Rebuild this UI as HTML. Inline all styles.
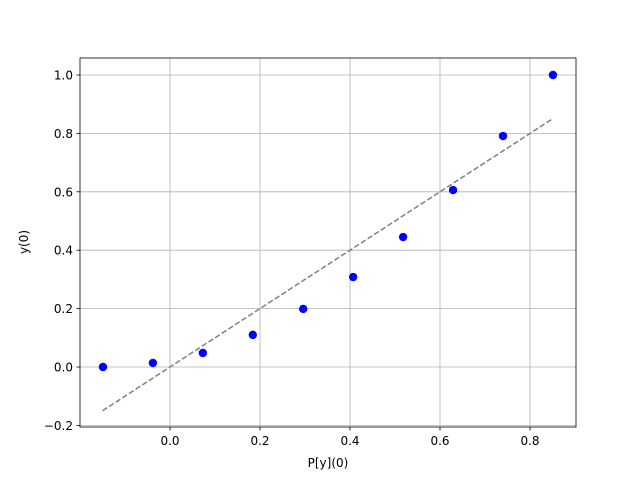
<!DOCTYPE html>
<html><head><meta charset="utf-8"><style>
body{margin:0;background:#fff;}
svg{display:block;font-family:"DejaVu Sans","Liberation Sans",sans-serif;}
</style></head><body>
<svg id="chart" width="640" height="480"></svg>
<script>
const xVals=[-0.149,-0.038,0.073,0.184,0.296,0.407,0.518,0.629,0.74,0.851];
const yVals=[0.0,0.014,0.048,0.11,0.199,0.308,0.445,0.606,0.791,1.0];
const lineX=[-0.15,0.85];
const lineY=[-0.15,0.85];
const xTicks=[0.0,0.2,0.4,0.6,0.8];
const yTicks=[-0.2,0.0,0.2,0.4,0.6,0.8,1.0];
const L=80,R=576,T=58,B=427;
const sx=v=>170+v*450;
const sy=v=>367-v*292;
const svg=document.getElementById('chart');
const NS='http://www.w3.org/2000/svg';
function mk(t,a,p){const e=document.createElementNS(NS,t);for(const k in a)e.setAttribute(k,a[k]);(p||svg).appendChild(e);return e;}
const grid=mk('g',{});


xTicks.forEach(v=>{const x=sx(v);
mk('line',{x1:x,x2:x,y1:T,y2:B,stroke:'#b0b0b0','stroke-width':0.8},grid);
mk('line',{x1:x,x2:x,y1:B,y2:B+3.5,stroke:'#000','stroke-width':0.8});
const t=mk('text',{x:x,y:B+18,'text-anchor':'middle','font-size':12});t.textContent=v.toFixed(1);

});
yTicks.forEach(v=>{const y=sy(v);
mk('line',{x1:L,x2:R,y1:y,y2:y,stroke:'#b0b0b0','stroke-width':0.8},grid);
mk('line',{x1:L-3.5,x2:L,y1:y,y2:y,stroke:'#000','stroke-width':0.8});
const t=mk('text',{x:L-7,y:y+4.5,'text-anchor':'end','font-size':12});t.textContent=(v<0?'\u2212':'')+Math.abs(v).toFixed(1);

});
const ln=mk('line',{x1:sx(lineX[0]),y1:sy(lineY[0]),x2:sx(lineX[1]),y2:sy(lineY[1]),stroke:'#808080','stroke-width':1.5,'stroke-dasharray':'5.5,2.4'});


xVals.forEach((v,i)=>{const c=mk('circle',{cx:sx(v),cy:sy(yVals[i]),r:4.2,fill:'#0000ff'});

});
const fr=mk('rect',{x:L,y:T,width:R-L,height:B-T,fill:'none',stroke:'#000','stroke-width':0.8});


const xl=mk('text',{x:(L+R)/2,y:467,'text-anchor':'middle','font-size':12});xl.textContent='P[y](0)';


const yl=mk('text',{x:0,y:0,'text-anchor':'middle','font-size':12,transform:'translate(28,242) rotate(-90)'});yl.textContent='y(0)';


</script>
</body></html>
